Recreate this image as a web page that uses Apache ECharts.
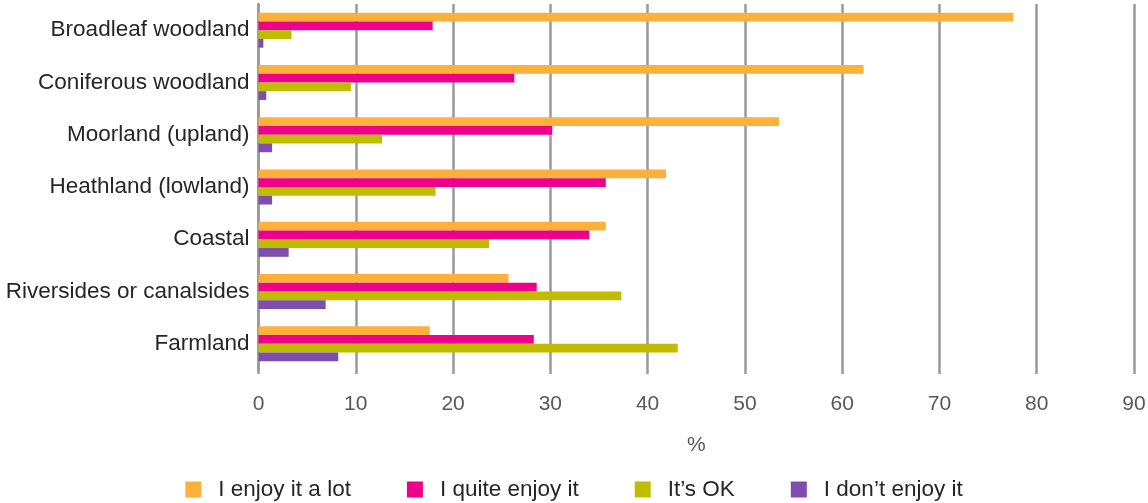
<!DOCTYPE html>
<html lang="en">

<head>
    <meta charset="UTF-8">
    <title>Enjoyment of landscape types</title>
    <style>
        html, body { margin: 0; padding: 0; background: #fff; }
        #chart { width: 1148px; height: 503px; }
    </style>
</head>

<body>
    <div id="chart"></div>
</body>

<script src="https://cdn.jsdelivr.net/npm/echarts@6.0.0/dist/echarts.min.js"></script>
<script>
    const categories = ['Broadleaf woodland', 'Coniferous woodland', 'Moorland (upland)', 'Heathland (lowland)', 'Coastal', 'Riversides or canalsides', 'Farmland'];
    const enjoyALot = [77.6, 62.2, 53.5, 41.9, 35.7, 25.7, 17.6];
    const quiteEnjoy = [17.9, 26.3, 30.2, 35.7, 34.0, 28.6, 28.3];
    const itsOk = [3.4, 9.5, 12.7, 18.2, 23.7, 37.3, 43.1];
    const dontEnjoy = [0.5, 0.8, 1.4, 1.4, 3.1, 6.9, 8.2];
    const seriesNames = ['I enjoy it a lot', 'I quite enjoy it', 'It\u2019s OK', 'I don\u2019t enjoy it'];

    const font = '"Liberation Sans", Arial, sans-serif';

    function makeSeries(name, data, color) {
        return {
            name: name, type: 'bar', data: data,
            barGap: 0, barCategoryGap: '33%',
            itemStyle: { color: color }
        };
    }

    let option = {
        animation: false,
        textStyle: { fontFamily: font },
        grid: { left: 258.5, right: 14, top: 4, bottom: 133, outerBoundsMode: 'none', containLabel: false },
        legend: {
            bottom: -3, left: 'center',
            itemWidth: 16, itemHeight: 16, itemGap: 56,
            icon: 'rect',
            textStyle: { fontSize: 22.5, color: '#262626', fontFamily: font, padding: [0, 0, 0, 12] },
            data: seriesNames
        },
        xAxis: {
            type: 'value', min: 0, max: 90, interval: 10,
            name: '%', nameLocation: 'middle', nameGap: 65,
            nameTextStyle: { fontSize: 21, color: '#595959', fontFamily: font },
            axisLine: { show: false },
            axisTick: { show: true, length: 4, lineStyle: { color: '#999', width: 2.5 } },
            axisLabel: { fontSize: 21, color: '#595959', margin: 24, fontFamily: font },
            splitLine: { show: true, lineStyle: { color: '#999', width: 2.5 } }
        },
        yAxis: {
            type: 'category', data: categories, inverse: true,
            axisLine: { show: true, lineStyle: { color: '#999', width: 2.5 } },
            axisTick: { show: false },
            axisLabel: { fontSize: 22.5, color: '#262626', margin: 9, fontFamily: font }
        },
        series: [
            makeSeries(seriesNames[0], enjoyALot, '#FDB03A'),
            makeSeries(seriesNames[1], quiteEnjoy, '#EC008C'),
            makeSeries(seriesNames[2], itsOk, '#C0BD00'),
            makeSeries(seriesNames[3], dontEnjoy, '#7F4DAF')
        ]
    };

    let myChart = echarts.init(document.getElementById('chart'));
    myChart.setOption(option);
    window.onresize = function () {
        myChart.resize();
    };
</script>

</html>
